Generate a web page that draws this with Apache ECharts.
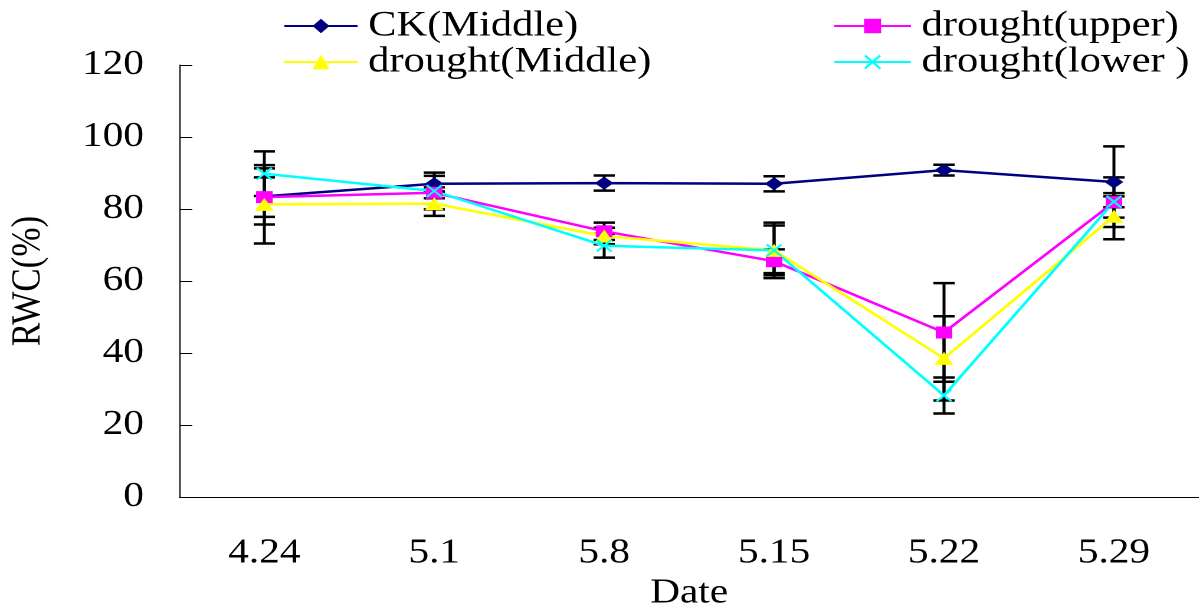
<!DOCTYPE html>
<html>
<head>
<meta charset="utf-8">
<script src="https://cdn.jsdelivr.net/npm/echarts@6/dist/echarts.min.js"></script>
<style>
html, body { margin: 0; padding: 0; background: #fff; overflow: hidden; }
/* the original picture is stretched sideways, so draw narrower and stretch */
#chart { width: 1016px; height: 604px; transform: scaleX(1.18); transform-origin: 0 0; }
</style>
</head>
<body>
<div id="chart"></div>
<script>
const dates = ['4.24', '5.1', '5.8', '5.15', '5.22', '5.29']
const yTicks = [0, 20, 40, 60, 80, 100, 120]

const ckMiddle = [83.5, 87.0, 87.2, 87.0, 90.8, 87.5]
const droughtUpper = [83.3, 84.5, 73.8, 65.5, 45.7, 81.9]
const droughtMiddle = [81.3, 81.5, 72.5, 68.5, 38.5, 78.0]
const droughtLower = [89.8, 85.0, 69.8, 68.5, 28.2, 82.0]

const ckErr = [7.8, 2.2, 2.1, 2.1, 1.5, 9.9]
const upperErr = [5.5, 1.5, 2.4, 3.3, 13.7, 6.9]
const middleErr = [10.9, 3.4, 2.3, 7.7, 11.7, 6.4]
const lowerErr = [6.2, 5.1, 3.3, 6.9, 5.0, 1.5]

const font = '"Liberation Serif", "Times New Roman", serif'
const crossPath = 'path://M0,1L1,0L5,4L9,0L10,1L6,5L10,9L9,10L5,6L1,10L0,9L4,5Z'

function errData(vals, errs) {
  return vals.map((v, i) => [i, v - errs[i], v + errs[i]])
}

function renderErr(params, api) {
  const lo = api.coord([api.value(0), api.value(1)])
  const hi = api.coord([api.value(0), api.value(2)])
  const half = 9
  const style = { stroke: '#000', lineWidth: 2.5 }
  return {
    type: 'group',
    children: [
      { type: 'line', shape: { x1: lo[0], y1: lo[1], x2: hi[0], y2: hi[1] }, style: style },
      { type: 'line', shape: { x1: lo[0] - half, y1: lo[1], x2: lo[0] + half, y2: lo[1] }, style: style },
      { type: 'line', shape: { x1: hi[0] - half, y1: hi[1], x2: hi[0] + half, y2: hi[1] }, style: style }
    ]
  }
}

function errSeries(vals, errs) {
  return {
    type: 'custom',
    renderItem: renderErr,
    data: errData(vals, errs),
    encode: { x: 0, y: [1, 2] },
    z: 1,
    silent: true
  }
}

function lineSeries(name, data, color, symbol, size) {
  return {
    name: name,
    type: 'line',
    data: data,
    symbol: symbol,
    symbolSize: size,
    z: 3,
    lineStyle: { color: color, width: 2.5 },
    itemStyle: { color: color }
  }
}

const myChart = echarts.init(document.getElementById('chart'), null, { devicePixelRatio: 2 })

const legendText = { fontFamily: font, fontSize: 36, color: '#000', padding: [0, 0, 0, 4], lineHeight: 36 }

myChart.setOption({
  animation: false,
  backgroundColor: '#fff',
  legend: [
    {
      data: ['CK(Middle)', 'drought(Middle)'],
      orient: 'vertical',
      left: 235,
      top: 3,
      itemWidth: 62,
      itemHeight: 18,
      itemGap: 0,
      textStyle: legendText
    },
    {
      data: ['drought(upper)', 'drought(lower )'],
      orient: 'vertical',
      left: 701,
      top: 3,
      itemWidth: 65,
      itemHeight: 18,
      itemGap: 0,
      textStyle: legendText
    }
  ],
  grid: {
    left: 152,
    right: 0,
    top: 65,
    bottom: 107,
    outerBoundsMode: 'none'
  },
  xAxis: {
    type: 'category',
    data: dates,
    name: 'Date',
    nameLocation: 'middle',
    nameGap: 74,
    nameTextStyle: { fontFamily: font, fontSize: 35, color: '#000' },
    axisLine: { lineStyle: { color: '#000', width: 1 } },
    axisTick: { inside: true, length: 10, interval: 0, lineStyle: { color: '#000' } },
    axisLabel: { fontFamily: font, fontSize: 35, color: '#000', margin: 39, interval: 0 },
    splitLine: { show: false }
  },
  yAxis: {
    type: 'value',
    min: yTicks[0],
    max: yTicks[yTicks.length - 1],
    interval: 20,
    name: 'RWC(%)',
    nameLocation: 'middle',
    nameGap: 110,
    nameTextStyle: { fontFamily: font, fontSize: 35, color: '#000' },
    axisLine: { show: true, lineStyle: { color: '#000', width: 1 } },
    axisTick: { show: true, inside: true, length: 11, lineStyle: { color: '#000' } },
    axisLabel: { fontFamily: font, fontSize: 35, color: '#000', margin: 30 },
    splitLine: { show: false }
  },
  series: [
    errSeries(ckMiddle, ckErr),
    errSeries(droughtUpper, upperErr),
    errSeries(droughtMiddle, middleErr),
    errSeries(droughtLower, lowerErr),
    lineSeries('CK(Middle)', ckMiddle, '#000080', 'diamond', [16, 13]),
    lineSeries('drought(upper)', droughtUpper, '#FF00FF', 'rect', [14, 12]),
    lineSeries('drought(Middle)', droughtMiddle, '#FFFF00', 'triangle', [16, 13]),
    lineSeries('drought(lower )', droughtLower, '#00FFFF', crossPath, [14, 13])
  ]
})

window.addEventListener('resize', () => {
  myChart.resize()
})
</script>
</body>
</html>
